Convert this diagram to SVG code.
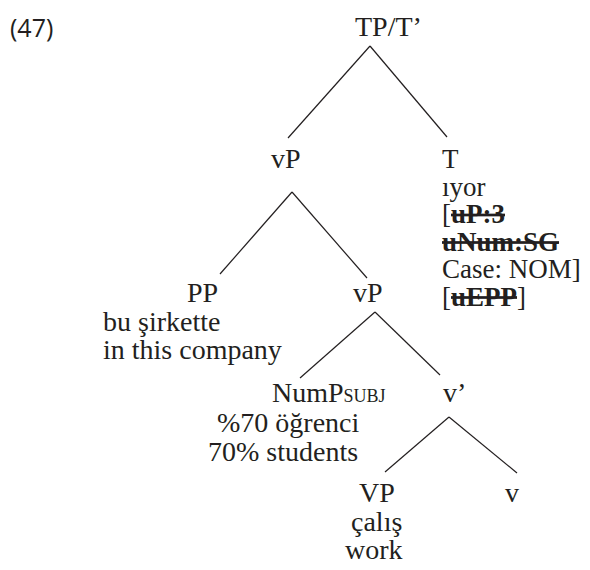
<svg xmlns="http://www.w3.org/2000/svg" width="590" height="570" viewBox="0 0 590 570">
<style>
text{font-family:"Liberation Serif","Times New Roman",serif;font-size:28px;fill:#231f20}
.tb{font-size:27px}
.num{font-family:"Open Sans","Noto Sans",sans-serif;font-size:25px}
.sc{font-size:18px}
.st{font-weight:bold;text-decoration:line-through}
line{stroke:#231f20;stroke-width:1.2;fill:none}
</style>
<rect width="590" height="570" fill="#fff"/>
<text class="num" x="10" y="37">(47)</text>
<g id="connectors">
<line x1="370" y1="46" x2="288" y2="138"/>
<line x1="370" y1="46" x2="447" y2="137"/>
<line x1="292" y1="192" x2="220" y2="274"/>
<line x1="292" y1="192" x2="367" y2="278"/>
<line x1="375" y1="312" x2="300" y2="378"/>
<line x1="375" y1="312" x2="440" y2="375"/>
<line x1="449" y1="417" x2="385" y2="472"/>
<line x1="449" y1="417" x2="517" y2="473"/>
</g>
<g id="TP"><text x="355" y="36">TP/T’</text></g>
<g id="vP1"><text x="271" y="168">vP</text></g>
<g id="T">
<text class="tb"><tspan x="442" y="168">T</tspan><tspan x="442" y="195.5">ıyor</tspan><tspan x="442" y="223">[<tspan class="st">uP:3</tspan></tspan><tspan x="442" y="250.5" class="st">uNum:SG</tspan><tspan x="442" y="278">Case: NOM]</tspan><tspan x="442" y="305.5">[<tspan class="st">uEPP</tspan>]</tspan></text>
</g>
<g id="PP">
<text x="187" y="302">PP</text>
<text><tspan x="103" y="331">bu şirkette</tspan><tspan x="103" y="359">in this company</tspan></text>
</g>
<g id="vP2"><text x="353" y="302">vP</text></g>
<g id="NumP">
<text x="272" y="402">NumP<tspan class="sc">SUBJ</tspan></text>
<text><tspan x="217" y="432">%70 öğrenci</tspan><tspan x="208" y="461">70% students</tspan></text>
</g>
<g id="vbar"><text x="443" y="402">v’</text></g>
<g id="VP">
<text x="359" y="502">VP</text>
<text><tspan x="351" y="531">çalış</tspan><tspan x="345" y="559">work</tspan></text>
</g>
<g id="v"><text x="505" y="502">v</text></g>
</svg>
